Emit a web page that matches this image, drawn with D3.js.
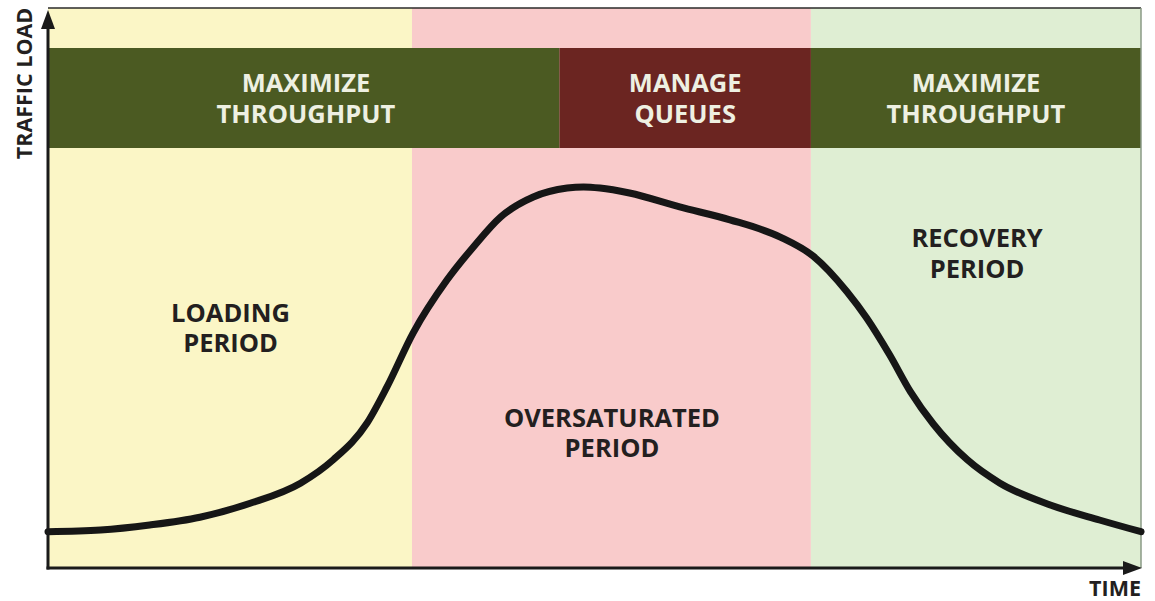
<!DOCTYPE html>
<html>
<head>
<meta charset="utf-8">
<script src="https://cdn.jsdelivr.net/npm/d3@7"></script>
<style>
  html, body { margin: 0; padding: 0; background: #ffffff; }
  svg { display: block; }
  text { font-family: "Open Sans", "Noto Sans", sans-serif; font-weight: 700; }
</style>
</head>
<body>
<svg id="chart" width="1155" height="601"></svg>
<script>
// ---- data ----
const time = [0, 4.8, 9.3, 13.9, 18.5, 23.1, 26.1, 29.2, 31.0, 33.4, 36.5, 38.9, 41.4, 44.4, 47.5, 49.0, 50.5, 53.2, 57.8, 62.4, 67.0, 70.0, 73.1, 74.9, 77.0, 78.9, 81.0, 84.1, 87.1, 91.7, 96.2, 100];
const load = [6.5, 6.8, 7.7, 9.1, 11.6, 15.2, 19.4, 26.0, 32.4, 42.1, 51.6, 57.5, 62.9, 66.5, 68.1, 68.3, 68.1, 67.2, 64.7, 62.4, 59.3, 55.9, 49.5, 44.8, 38.2, 31.6, 25.8, 19.4, 15.2, 11.3, 8.6, 6.5];

const periodNames = [["LOADING", "PERIOD"], ["OVERSATURATED", "PERIOD"], ["RECOVERY", "PERIOD"]];
const periodStart = [0, 33.3, 69.8];
const periodEnd = [33.3, 69.8, 100];
const periodLabelTime = [16.7, 51.6, 85.0];
const periodLabelLoad = [44.1, 25.3, 57.5];

const strategyNames = [["MAXIMIZE", "THROUGHPUT"], ["MANAGE", "QUEUES"], ["MAXIMIZE", "THROUGHPUT"]];
const strategyStart = [0, 46.8, 69.8];
const strategyEnd = [46.8, 69.8, 100];
const strategyLabelTime = [23.6, 58.3, 84.9];

const axisLabels = { y: "TRAFFIC LOAD", x: "TIME" };

// ---- layout ----
const svg = d3.select("#chart");
const L = 48, R = 1141, T = 8, B = 568;
const x = d3.scaleLinear().domain([0, 100]).range([L, R]);
const y = d3.scaleLinear().domain([0, 100]).range([B, 10]);

const periodFill = ["#fbf6c6", "#f9cbcb", "#dfeed3"];
const strategyFill = ["#4b5a22", "#6b2521", "#4b5a22"];
const bandTop = 48, bandBottom = 148;
const labelSize = 25.5, lineGap = 30.5;

// period backgrounds
svg.append("g").selectAll("rect").data(periodStart).join("rect")
  .attr("x", (d, i) => x(d))
  .attr("y", T)
  .attr("width", (d, i) => x(periodEnd[i]) - x(d))
  .attr("height", B - T)
  .attr("fill", (d, i) => periodFill[i]);

// strategy band
svg.append("g").selectAll("rect").data(strategyStart).join("rect")
  .attr("x", d => x(d))
  .attr("y", bandTop)
  .attr("width", (d, i) => x(strategyEnd[i]) - x(d))
  .attr("height", bandBottom - bandTop)
  .attr("fill", (d, i) => strategyFill[i]);

// strategy labels
svg.append("g").selectAll("text").data(strategyNames).join("text")
  .attr("text-anchor", "middle")
  .attr("fill", "#eef0e2")
  .attr("font-size", labelSize)
  .each(function (d, i) {
    d3.select(this).selectAll("tspan").data(d).join("tspan")
      .attr("x", x(strategyLabelTime[i]))
      .attr("y", (s, j) => 92 + j * lineGap)
      .text(s => s);
  });

// period labels
svg.append("g").selectAll("text").data(periodNames).join("text")
  .attr("text-anchor", "middle")
  .attr("fill", "#231f20")
  .attr("font-size", labelSize)
  .each(function (d, i) {
    const base = y(periodLabelLoad[i]);
    d3.select(this).selectAll("tspan").data(d).join("tspan")
      .attr("x", x(periodLabelTime[i]))
      .attr("y", (s, j) => base + j * lineGap)
      .text(s => s);
  });

// top & right borders
svg.append("line").attr("x1", L).attr("x2", R).attr("y1", T).attr("y2", T)
  .attr("stroke", "#2a2a2a").attr("stroke-width", 1.5);
svg.append("line").attr("x1", R).attr("x2", R).attr("y1", T).attr("y2", B)
  .attr("stroke", "#8a9a86").attr("stroke-width", 1.5);

// curve
const line = d3.line()
  .x((d, i) => x(time[i]))
  .y((d, i) => y(load[i]))
  .curve(d3.curveMonotoneX);
svg.append("path").datum(load)
  .attr("d", line)
  .attr("fill", "none")
  .attr("stroke", "#161616")
  .attr("stroke-width", 7)
  .attr("stroke-linecap", "round")
  .attr("stroke-linejoin", "round");

// axes
const axisColor = "#1a1a1a";
svg.append("line").attr("x1", L).attr("x2", L).attr("y1", B + 1.5).attr("y2", 24)
  .attr("stroke", axisColor).attr("stroke-width", 3);
svg.append("line").attr("x1", L - 1.5).attr("x2", R - 14).attr("y1", B).attr("y2", B)
  .attr("stroke", axisColor).attr("stroke-width", 3);
svg.append("path")
  .attr("d", `M${L},${y(100)} L${L - 7},${y(100) + 19} L${L + 7},${y(100) + 19} Z`)
  .attr("fill", axisColor);
svg.append("path")
  .attr("d", `M${R + 1},${B} L${R - 18},${B - 7} L${R - 18},${B + 7} Z`)
  .attr("fill", axisColor);

// axis titles
svg.append("text")
  .attr("transform", `translate(32, 83.5) rotate(-90)`)
  .attr("text-anchor", "middle")
  .attr("font-size", 21.5)
  .attr("fill", "#231f20")
  .text(axisLabels.y);
svg.append("text")
  .attr("x", R).attr("y", 596)
  .attr("text-anchor", "end")
  .attr("font-size", 21.5)
  .attr("fill", "#231f20")
  .text(axisLabels.x);
</script>
</body>
</html>
